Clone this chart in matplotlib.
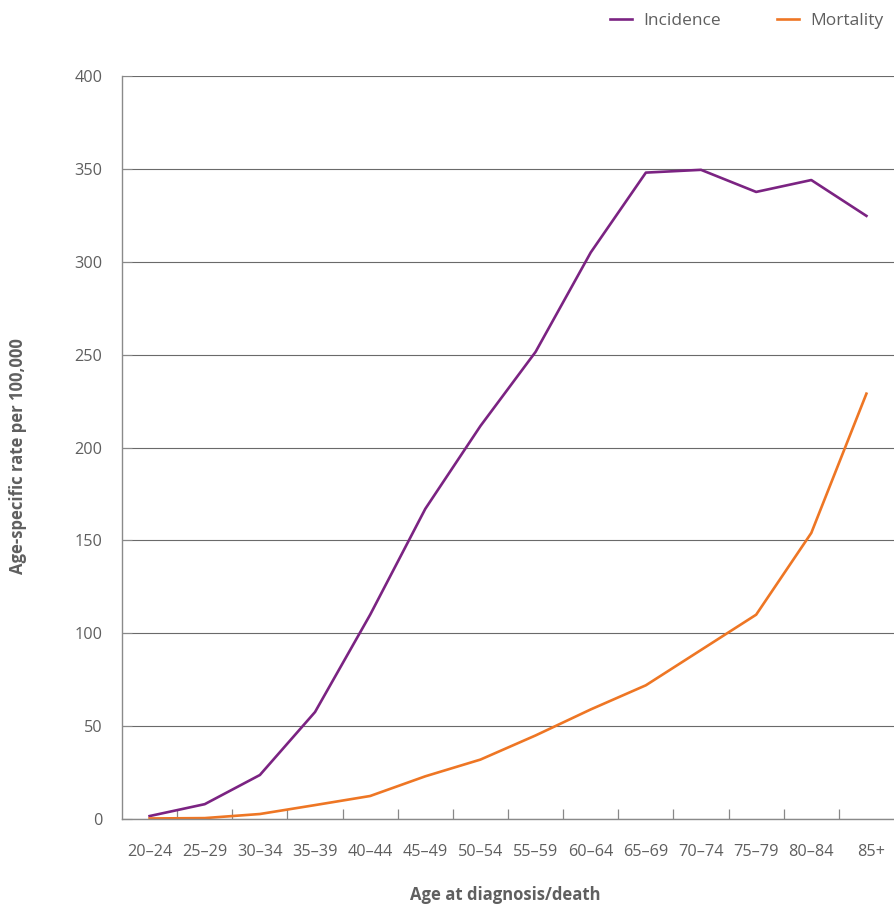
import numpy as np
import matplotlib.pyplot as plt
from matplotlib.ticker import FixedLocator

# Age-specific rates per 100,000
age_groups = ['20–24', '25–29', '30–34', '35–39', '40–44', '45–49', '50–54',
              '55–59', '60–64', '65–69', '70–74', '75–79', '80–84', '85+']
incidence = [1.6, 8, 23.7, 57.6, 110, 167, 211.6, 251.5, 305, 348, 349.5, 337.6, 344, 324.7]
mortality = [0.3, 0.5, 2.7, 7.5, 12.4, 23, 32, 45, 59, 72, 91, 110, 154, 229]

purple = '#7b2382'
orange = '#ee7624'
txt = '#5f5f5f'

plt.rcParams['font.family'] = ['Open Sans', 'DejaVu Sans']

fig = plt.figure(figsize=(8.94, 9.05), dpi=100)
ax = fig.add_axes([0.1365, 0.095, 0.8635, 0.821])

x = np.arange(len(age_groups))
ax.plot(x, incidence, color=purple, lw=1.9, label='Incidence')
ax.plot(x, mortality, color=orange, lw=1.9, label='Mortality')

ax.set_xlim(-0.5, len(age_groups) - 0.5)
ax.set_ylim(0, 400)
ax.set_yticks(np.arange(0, 401, 50))
ax.yaxis.grid(True, color='#6a6a6a', lw=0.8)
ax.set_axisbelow(True)

# category labels sit between the boundary ticks
ax.set_xticks(x)
ax.set_xticklabels([])
ax.xaxis.set_minor_locator(FixedLocator(x[:-1] + 0.5))
ax.tick_params(axis='x', which='major', length=0)
ax.tick_params(axis='x', which='minor', direction='in', length=7, color='#888888', width=0.9)
ax.tick_params(axis='y', direction='in', length=7, color='#888888', pad=14,
               labelsize=11.7, labelcolor=txt)
for xi, lab in zip(x, age_groups):
    off = 0.08 if lab == '85+' else 0
    ax.text(xi + off, -0.0445, lab, transform=ax.get_xaxis_transform(),
            ha='center', va='center', fontsize=11.7, color=txt)

for s in ['top', 'right']:
    ax.spines[s].set_visible(False)
for s in ['left', 'bottom']:
    ax.spines[s].set_color('#8a8a8a')
    ax.spines[s].set_linewidth(1.0)

fig.text(0.565, 0.011, 'Age at diagnosis/death', ha='center', va='center',
         fontsize=12, fontweight='bold', color=txt)
fig.text(0.02, 0.496, 'Age-specific rate per 100,000', ha='center', va='center',
         rotation=90, fontsize=12, fontweight='bold', color=txt)

fig.legend(loc='upper right', bbox_to_anchor=(1.003, 1.0), ncol=2, frameon=False,
           fontsize=12.5, handlelength=1.3, columnspacing=3.2, handletextpad=0.65,
           borderaxespad=0.35, labelcolor=txt)

fig.savefig('out.png', dpi=100)
